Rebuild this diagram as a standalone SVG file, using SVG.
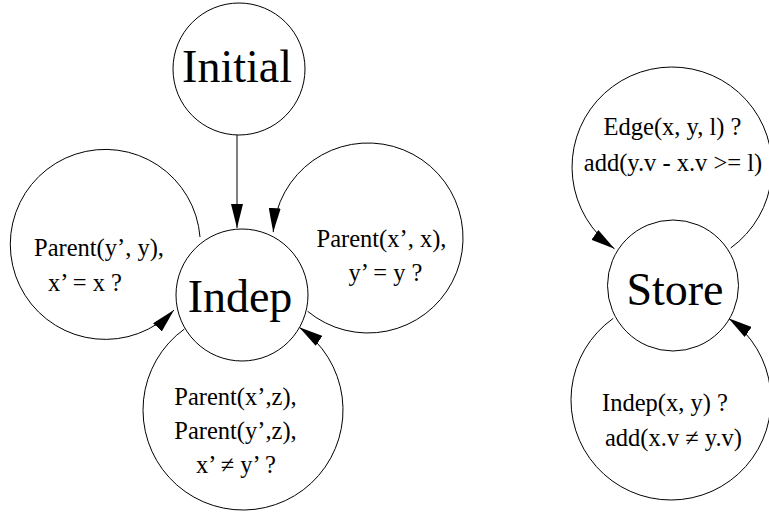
<svg xmlns="http://www.w3.org/2000/svg" width="769" height="512" viewBox="0 0 769 512">
<style>
.node{fill:#fff;stroke:#000;stroke-width:1}
.edge{fill:none;stroke:#000;stroke-width:1;marker-end:url(#arr)}
.name{font-family:"Liberation Serif","Times New Roman",serif;font-size:46px;text-anchor:middle;fill:#000}
.lbl{font-family:"Liberation Serif","Times New Roman",serif;font-size:24.5px;text-anchor:middle;fill:#000}
</style>
<defs>
<marker id="arr" markerUnits="userSpaceOnUse" viewBox="0 0 24 12" refX="24" refY="6" markerWidth="24" markerHeight="12" orient="auto">
<path d="M0,0 L24,6 L0,12 z" fill="#000"/>
</marker>
</defs>
<g id="connectors">
<path class="edge" d="M237,135 L237,228"/>
<path class="edge" d="M200,237 A95,95 0 1 0 174,310"/>
<path class="edge" d="M307.6,311.3 A95,95 0 1 0 273.2,232.1"/>
<path class="edge" d="M184.4,329 A100,100 0 1 0 299.2,327.3"/>
<path class="edge" d="M730.7,248 A100,100 0 1 0 614.5,248.8"/>
<path class="edge" d="M613.2,318.4 A100,100 0 1 0 728.5,318.2"/>
</g>
<g id="initial">
<circle class="node" cx="239" cy="69" r="66"/>
<text class="name" x="237" y="82">Initial</text>
</g>
<g id="indep">
<circle class="node" cx="242" cy="295" r="66"/>
<text class="name" x="240" y="312">Indep</text>
</g>
<g id="store">
<circle class="node" cx="673" cy="285.5" r="65.5"/>
<text class="name" x="675" y="305">Store</text>
</g>
<g id="labels">
<text class="lbl" x="99" y="256">Parent(y’, y),</text>
<text class="lbl" x="85" y="291">x’ = x ?</text>
<text class="lbl" x="381.5" y="247">Parent(x’, x),</text>
<text class="lbl" x="385.5" y="281">y’ = y ?</text>
<text class="lbl" x="235.5" y="405">Parent(x’,z),</text>
<text class="lbl" x="235.5" y="439">Parent(y’,z),</text>
<text class="lbl" x="236" y="473">x’ ≠ y’ ?</text>
<text class="lbl" x="672.5" y="135">Edge(x, y, l) ?</text>
<text class="lbl" x="673" y="171">add(y.v - x.v &gt;= l)</text>
<text class="lbl" x="665" y="411">Indep(x, y) ?</text>
<text class="lbl" x="673.5" y="446">add(x.v ≠ y.v)</text>
</g>
</svg>
